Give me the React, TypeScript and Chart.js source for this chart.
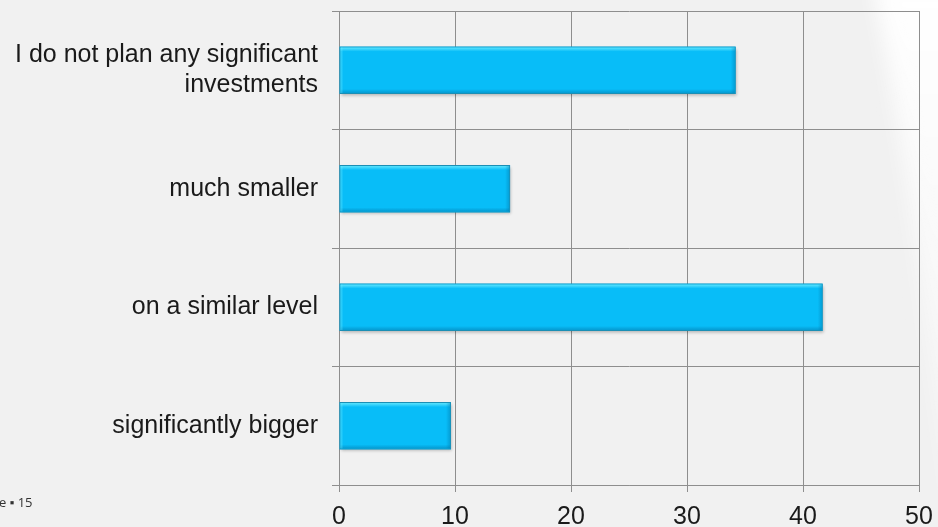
import React, { useEffect, useRef } from "react";
import { Chart, registerables } from "chart.js";

Chart.register(...registerables);

const categories: (string | string[])[] = [
  ["I do not plan any significant", "investments"],
  "much smaller",
  "on a similar level",
  "significantly bigger",
];
const shares: number[] = [34.2, 14.75, 41.7, 9.65];
const xTicks: number[] = [0, 10, 20, 30, 40, 50];
const slideFooter = "e \u25AA 15";

const FONT = "'Liberation Sans', Arial, sans-serif";
const GRID = "#8e8e8e";

// Slide backdrop: light grey with a pale swoosh along the right edge
const backdrop = {
  id: "backdrop",
  beforeDraw(chart: Chart) {
    const { ctx, width, height } = chart;
    ctx.save();
    ctx.fillStyle = "#f1f1f1";
    ctx.fillRect(0, 0, width, height);
    ctx.filter = "blur(10px)";
    const g = ctx.createLinearGradient(0, 0, 0, height);
    g.addColorStop(0, "rgba(255,255,255,0.95)");
    g.addColorStop(0.3, "rgba(255,255,255,0.7)");
    g.addColorStop(1, "rgba(255,255,255,0.25)");
    ctx.fillStyle = g;
    ctx.beginPath();
    ctx.moveTo(872, -20);
    ctx.quadraticCurveTo(912, 180, 948, 520);
    ctx.lineTo(990, 520);
    ctx.lineTo(990, -20);
    ctx.closePath();
    ctx.fill();
    ctx.restore();
  },
  afterDraw(chart: Chart) {
    const { ctx } = chart;
    ctx.save();
    ctx.font = `13px 'Open Sans', ${FONT}`;
    ctx.fillStyle = "#333333";
    ctx.textBaseline = "alphabetic";
    ctx.textAlign = "left";
    ctx.fillText(slideFooter, -1, 507);
    ctx.restore();
  },
};

// Bevel highlights and shadows on each bar, drawn from the bar elements
const bevel = {
  id: "bevel",
  beforeDatasetsDraw(chart: Chart) {
    const { ctx } = chart;
    const meta = chart.getDatasetMeta(0);
    ctx.save();
    meta.data.forEach((el: any) => {
      const { x, y, base, height } = el.getProps(["x", "y", "base", "height"], true);
      const top = y - height / 2;
      ctx.shadowColor = "rgba(0,0,0,0.25)";
      ctx.shadowBlur = 3;
      ctx.shadowOffsetY = 2;
      ctx.shadowOffsetX = 1;
      ctx.fillStyle = "#0aa8de";
      ctx.fillRect(base, top, x - base, height);
    });
    ctx.restore();
  },
  afterDatasetsDraw(chart: Chart) {
    const { ctx } = chart;
    const meta = chart.getDatasetMeta(0);
    ctx.save();
    meta.data.forEach((el: any) => {
      const { x, y, base, height } = el.getProps(["x", "y", "base", "height"], true);
      const top = y - height / 2;
      const bottom = y + height / 2;
      const w = x - base;
      const gt = ctx.createLinearGradient(0, top, 0, top + 5);
      gt.addColorStop(0, "rgba(120,240,255,0.95)");
      gt.addColorStop(1, "rgba(120,240,255,0)");
      ctx.fillStyle = gt;
      ctx.fillRect(base + 1, top + 1, w - 2, 5);
      const gb = ctx.createLinearGradient(0, bottom - 5, 0, bottom);
      gb.addColorStop(0, "rgba(0,110,160,0)");
      gb.addColorStop(1, "rgba(0,110,160,0.55)");
      ctx.fillStyle = gb;
      ctx.fillRect(base + 1, bottom - 5, w - 2, 4);
      const gr = ctx.createLinearGradient(x - 5, 0, x, 0);
      gr.addColorStop(0, "rgba(0,110,160,0)");
      gr.addColorStop(1, "rgba(0,110,160,0.45)");
      ctx.fillStyle = gr;
      ctx.fillRect(x - 5, top + 1, 4, height - 2);
      const gl = ctx.createLinearGradient(base, 0, base + 4, 0);
      gl.addColorStop(0, "rgba(120,240,255,0.6)");
      gl.addColorStop(1, "rgba(120,240,255,0)");
      ctx.fillStyle = gl;
      ctx.fillRect(base + 1, top + 1, 4, height - 2);
    });
    ctx.restore();
  },
};

export default function App() {
  const canvasRef = useRef<HTMLCanvasElement | null>(null);

  useEffect(() => {
    const canvas = canvasRef.current;
    if (!canvas) return;
    const chart = new Chart(canvas, {
      type: "bar",
      data: {
        labels: categories,
        datasets: [
          {
            data: shares,
            backgroundColor: "#08bdf8",
            borderColor: "#1b8fb5",
            borderWidth: 1,
            borderSkipped: false,
            categoryPercentage: 1,
            barPercentage: 0.4,
          },
        ],
      },
      options: {
        indexAxis: "y",
        animation: false,
        responsive: false,
        maintainAspectRatio: false,
        layout: { padding: { top: 11, right: 19, left: 0, bottom: 0 } },
        plugins: {
          legend: { display: false },
          tooltip: { enabled: false },
          title: { display: false },
        },
        scales: {
          x: {
            type: "linear",
            min: 0,
            max: 50,
            afterBuildTicks(scale: any) {
              scale.ticks = xTicks.map((v) => ({ value: v }));
            },
            afterFit(scale: any) {
              scale.height = 42;
              scale.paddingLeft = 0;
              scale.paddingRight = 0;
            },
            ticks: {
              color: "#1a1a1a",
              font: { family: FONT, size: 25, lineHeight: 1.2 },
              padding: 10,
              maxRotation: 0,
            },
            grid: {
              color: GRID,
              lineWidth: 1,
              tickLength: 7,
              drawTicks: true,
            },
            border: { color: GRID, width: 1 },
          },
          y: {
            type: "category",
            afterFit(scale: any) {
              scale.width = 339;
              scale.paddingTop = 0;
              scale.paddingBottom = 0;
            },
            ticks: {
              color: "#1a1a1a",
              font: { family: FONT, size: 25, lineHeight: 1.2 },
              padding: 14,
            },
            grid: {
              color: GRID,
              lineWidth: 1,
              tickLength: 7,
              offset: true,
            },
            border: { color: GRID, width: 1 },
          },
        },
      },
      plugins: [backdrop, bevel],
    });
    return () => chart.destroy();
  }, []);

  return (
    <div style={{ position: "fixed", left: 0, top: 0, width: 938, height: 527 }}>
      <canvas ref={canvasRef} width={938} height={527} style={{ display: "block" }} />
    </div>
  );
}
